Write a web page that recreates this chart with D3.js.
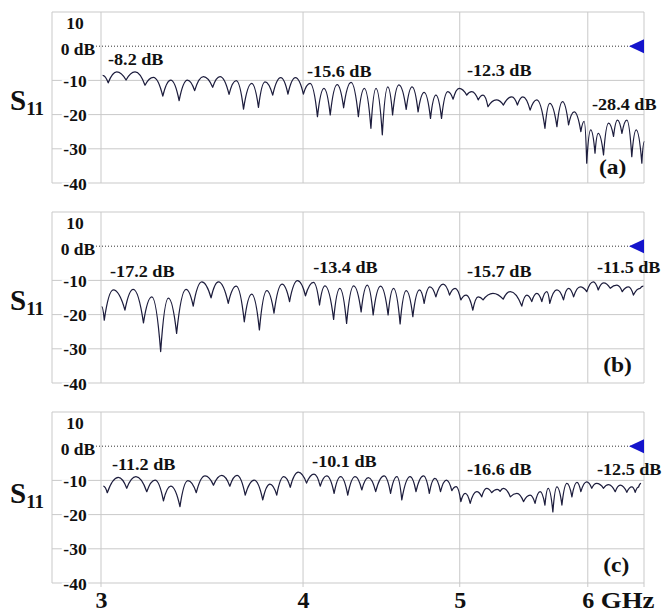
<!DOCTYPE html>
<html><head><meta charset="utf-8">
<script src="https://cdn.jsdelivr.net/npm/d3@7"></script>
<style>body{margin:0;background:#fff} svg{display:block}</style>
</head><body><svg id="c" width="662" height="613"></svg>
<script>
// ---------- data ----------
const yTicks = [10, 0, -10, -20, -30, -40];
const yTickLabels = ["10", "0 dB", "-10", "-20", "-30", "-40"];
const xTicks = [3, 4, 5, 6];
const xTickLabels = ["3", "4", "5", "6"];
const xUnit = "GHz";
const panelTags = ["(a)", "(b)", "(c)"];

const freqA = [3.007,3.031,3.068,3.109,3.149,3.194,3.232,3.276,3.313,3.353,3.393,3.428,3.471,3.517,3.554,3.600,3.637,3.675,3.718,3.754,3.789,3.831,3.875,3.915,3.957,4.002,4.040,4.083,4.121,4.158,4.199,4.238,4.283,4.328,4.365,4.406,4.438,4.478,4.513,4.544,4.585,4.633,4.672,4.712,4.753,4.796,4.833,4.872,4.915,4.953,4.996,5.050,5.086,5.133,5.169,5.205,5.267,5.321,5.385,5.428,5.470,5.527,5.580,5.645,5.684,5.742,5.788,5.838,5.885,5.941,5.969,5.991,6.025,6.062,6.090,6.136,6.180,6.224,6.259,6.299,6.343,6.388,6.428,6.480,6.503];
const s11A = [-8.5,-10.7,-7.5,-9.9,-7.5,-11.4,-9.1,-14.6,-9.9,-15.9,-9.9,-13.0,-8.9,-12.0,-8.9,-14.1,-10.1,-18.4,-10.9,-17.9,-10.4,-14.3,-9.2,-14.0,-9.2,-14.0,-10.9,-20.6,-12.3,-20.1,-11.2,-18.0,-10.6,-20.6,-12.3,-24.0,-12.3,-25.9,-11.9,-20.1,-11.3,-18.5,-11.9,-19.2,-13.5,-21.1,-14.3,-21.1,-13.3,-15.5,-12.3,-14.3,-13.3,-15.7,-14.3,-17.7,-15.7,-17.2,-14.8,-17.2,-14.8,-18.7,-15.7,-24.0,-16.7,-23.5,-16.2,-23.0,-19.2,-25.0,-22.0,-34.2,-24.5,-31.3,-25.5,-31.8,-22.5,-26.4,-21.6,-25.5,-21.6,-32.3,-24.5,-34.2,-27.9];

const freqB = [3.003,3.014,3.053,3.104,3.141,3.187,3.225,3.266,3.302,3.341,3.386,3.421,3.463,3.509,3.546,3.596,3.637,3.679,3.718,3.759,3.799,3.838,3.882,3.924,3.969,4.014,4.060,4.095,4.127,4.178,4.215,4.256,4.299,4.345,4.383,4.420,4.467,4.515,4.550,4.593,4.633,4.677,4.721,4.753,4.792,4.833,4.883,4.928,4.967,5.008,5.046,5.094,5.133,5.169,5.242,5.319,5.373,5.462,5.501,5.540,5.580,5.620,5.660,5.684,5.742,5.796,5.838,5.880,5.936,5.991,6.047,6.090,6.136,6.195,6.254,6.302,6.358,6.403,6.464,6.494];
const s11B = [-17.7,-21.6,-12.8,-18.7,-12.6,-22.4,-14.8,-30.8,-15.2,-25.5,-12.6,-17.5,-10.4,-15.1,-10.4,-16.7,-11.7,-22.1,-14.0,-24.5,-13.0,-19.6,-11.1,-16.2,-10.1,-14.5,-10.6,-17.2,-11.6,-21.4,-12.3,-22.6,-11.6,-19.2,-11.4,-20.1,-11.7,-20.1,-12.3,-22.7,-13.0,-20.6,-12.8,-16.7,-11.9,-14.8,-11.1,-14.3,-12.3,-15.7,-14.3,-18.7,-14.8,-15.7,-13.8,-15.5,-13.3,-17.5,-14.3,-16.2,-13.8,-16.2,-13.3,-16.7,-12.8,-15.7,-12.3,-14.8,-11.9,-13.3,-10.4,-12.8,-10.7,-12.3,-11.4,-13.3,-11.9,-14.3,-12.3,-11.7];

const freqC = [3.010,3.027,3.075,3.112,3.153,3.202,3.240,3.279,3.313,3.357,3.395,3.436,3.479,3.521,3.563,3.604,3.641,3.684,3.731,3.777,3.816,3.853,3.892,3.928,3.973,4.020,4.063,4.099,4.137,4.181,4.220,4.263,4.308,4.349,4.390,4.436,4.489,4.531,4.572,4.604,4.659,4.698,4.748,4.788,4.826,4.865,4.906,4.944,4.975,5.008,5.039,5.075,5.122,5.159,5.195,5.233,5.274,5.296,5.321,5.373,5.424,5.475,5.527,5.566,5.606,5.645,5.671,5.709,5.742,5.783,5.824,5.866,5.908,5.941,5.991,6.034,6.076,6.136,6.180,6.239,6.284,6.343,6.388,6.419,6.449,6.473];
const s11C = [-11.7,-13.6,-9.1,-12.3,-8.9,-13.3,-9.9,-16.0,-11.7,-17.7,-10.1,-13.6,-8.7,-11.4,-8.5,-11.7,-8.5,-14.3,-9.9,-15.7,-11.1,-14.3,-8.9,-12.0,-7.6,-10.8,-8.2,-11.7,-8.7,-13.8,-8.9,-14.3,-8.9,-12.8,-9.2,-13.3,-8.7,-13.8,-8.9,-15.7,-8.9,-13.3,-8.7,-13.8,-9.4,-13.3,-9.9,-13.0,-11.8,-16.2,-13.8,-16.7,-13.3,-14.8,-12.3,-13.6,-12.6,-13.2,-12.3,-14.8,-13.8,-16.2,-14.3,-16.7,-13.3,-17.2,-12.3,-19.2,-11.9,-17.2,-10.9,-14.8,-10.6,-13.3,-10.4,-12.3,-10.9,-12.3,-11.2,-13.3,-11.4,-13.5,-11.9,-13.5,-12.0,-10.9];

const notesA = ["-8.2 dB", "-15.6 dB", "-12.3 dB", "-28.4 dB"];
const notesB = ["-17.2 dB", "-13.4 dB", "-15.7 dB", "-11.5 dB"];
const notesC = ["-11.2 dB", "-10.1 dB", "-16.6 dB", "-12.5 dB"];

// ---------- layout ----------
const SERIF = '"Liberation Serif","Times New Roman",Times,serif';
const frameL = 52, plotL = 101, plotR = 644;
const panelTop = [12, 212, 412], panelH = 171;
const sBase = [110, 310, 503];
const noteAnchors = [
  [[3.030,-5.6],[4.023,-9.0],[5.052,-8.7],[6.036,-18.8]],
  [[3.039,-9.0],[4.058,-7.7],[5.052,-9.0],[6.079,-7.8]],
  [[3.047,-7.0],[4.052,-6.1],[5.052,-8.4],[6.079,-8.4]]
];
const tagAnchors = [[6.096,-37.4],[6.133,-36.8],[6.133,-36.8]];

// custom curve: rounded maxima, pointed minima (ripple look)
function RippleCurve(context){ this._context = context; }
RippleCurve.prototype = {
  areaStart(){}, areaEnd(){},
  lineStart(){ this._pts = []; },
  point(px, py){ this._pts.push([+px, +py]); },
  lineEnd(){
    const p = this._pts, c = this._context;
    if (!p.length) return;
    c.moveTo(p[0][0], p[0][1]);
    for (let k = 1; k < p.length; k++) {
      const [x0, y0] = p[k-1], [x1, y1] = p[k];
      const dx = x1 - x0, dy = Math.abs(y1 - y0);
      if (y1 >= y0) {
        c.bezierCurveTo(x0 + 0.45*dx, y0, x1 - 0.22*dx, y1 - 0.45*dy, x1, y1);
      } else {
        c.bezierCurveTo(x0 + 0.22*dx, y0 - 0.45*dy, x1 - 0.45*dx, y1, x1, y1);
      }
    }
  }
};
const rippleCurve = ctx => new RippleCurve(ctx);

const svg = d3.select("#c");
svg.append("rect").attr("width",662).attr("height",613).attr("fill","#fff");
const x = d3.scaleLog().domain([3, 6.5]).range([plotL, plotR]);

function sText(g, str, px, py, size, sx, anchor){
  return g.append("text")
    .attr("transform", `translate(${px},${py}) scale(${sx},1)`)
    .attr("text-anchor", anchor || "start")
    .attr("font-family", SERIF).attr("font-weight","bold")
    .attr("font-size", size).attr("fill","#111").text(str);
}

const series = [[freqA,s11A],[freqB,s11B],[freqC,s11C]];
const notes = [notesA, notesB, notesC];

series.forEach(([fr, db], i) => {
  const top = panelTop[i], bot = top + panelH;
  const y = d3.scaleLinear().domain([-40, 10]).range([bot, top]);
  const g = svg.append("g");
  const grid = "#c9c9c9";

  g.selectAll("line.h").data(yTicks.filter(v => v !== 0)).join("line")
    .attr("x1", frameL).attr("x2", plotR)
    .attr("y1", d => y(d)).attr("y2", d => y(d))
    .attr("stroke", grid).attr("stroke-width", 1);
  g.selectAll("line.v").data(xTicks).join("line")
    .attr("x1", d => x(d)).attr("x2", d => x(d))
    .attr("y1", top).attr("y2", i === 2 ? bot + 4 : bot)
    .attr("stroke", grid).attr("stroke-width", 1);
  [frameL, plotR].forEach(xx => g.append("line")
    .attr("x1", xx).attr("x2", xx).attr("y1", top).attr("y2", i === 2 && xx === plotR ? bot + 4 : bot)
    .attr("stroke", grid).attr("stroke-width", 1));

  const y0 = y(0);
  g.append("line").attr("x1", 96).attr("x2", x(6.5) - 13)
    .attr("y1", y0).attr("y2", y0)
    .attr("stroke", "#333").attr("stroke-width", 1).attr("stroke-dasharray", "1,2");
  const xe = x(6.5);
  g.append("path").attr("d", `M${xe-15},${y0}L${xe},${y0-7}L${xe},${y0+7}Z`).attr("fill", "#1414cc");

  const ax = g.append("g").attr("transform", "translate(75,0)")
    .call(d3.axisLeft(y).tickValues(yTicks).tickSize(0).tickPadding(0)
      .tickFormat((d, k) => yTickLabels[k]));
  ax.select(".domain").remove();
  ax.selectAll("text")
    .attr("x", d => d === 0 ? 3 : 0).attr("text-anchor", "middle")
    .attr("font-family", SERIF).attr("font-weight", "bold").attr("font-size", 17.5)
    .attr("fill", "#111").attr("stroke", "#fff").attr("stroke-width", 4)
    .attr("paint-order", "stroke")
    .attr("dy", d => d === 10 ? "0.95em" : d === 0 ? "0.45em" : "0.35em");

  const line = d3.line().x(d => x(d[0])).y(d => y(d[1])).curve(rippleCurve);
  g.append("path").datum(fr.map((f, k) => [f, db[k]]))
    .attr("d", line).attr("fill", "none")
    .attr("stroke", "#1d1d3d").attr("stroke-width", 1.25).attr("stroke-linejoin", "round");

  notes[i].forEach((t, k) => {
    const [f, v] = noteAnchors[i][k];
    sText(g, t, x(f), y(v), 16.5, 1.1);
  });
  sText(g, panelTags[i], x(tagAnchors[i][0]), y(tagAnchors[i][1]), 21, 1.12);

  const s = g.append("text").attr("x", 10).attr("y", sBase[i])
    .attr("font-family", SERIF).attr("font-weight", "bold").attr("fill", "#111");
  s.append("tspan").attr("font-size", 29).text("S");
  s.append("tspan").attr("font-size", 19).attr("dy", 5).text("11");

  if (i === 2) {
    const bx = g.append("g").attr("transform", `translate(0,${bot})`)
      .call(d3.axisBottom(x).tickValues(xTicks).tickSize(0).tickPadding(8)
        .tickFormat((d, k) => xTickLabels[k]));
    bx.select(".domain").remove();
    bx.selectAll("text").attr("font-family", SERIF).attr("font-weight", "bold")
      .attr("font-size", 24).attr("fill", "#111");
    sText(g, xUnit, x(6) + 13, bot + 25, 24, 1.12);
  }
});
</script></body></html>
